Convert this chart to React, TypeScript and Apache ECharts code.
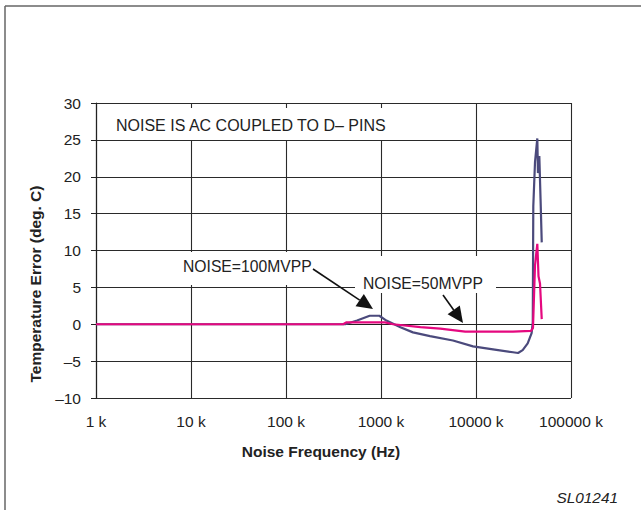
import React, { useEffect, useRef } from "react";
import * as echarts from "echarts";

// Noise frequency in kHz, temperature error in deg. C
const blueFreq = [1, 420, 560, 760, 960, 1140, 1600, 2170, 3280, 5720, 9300, 15100, 24500, 27700, 31000, 35000, 38500, 39600, 40100, 41800, 44200, 44900, 46400, 47800, 49200];
const blueTemp = [0, 0, 0.5, 1.15, 1.15, 0.5, -0.4, -1.1, -1.6, -2.2, -3.0, -3.4, -3.8, -3.9, -3.5, -2.6, -1.2, 0.3, 16, 22, 25.2, 20.5, 22.8, 17, 11.1];

const pinkFreq = [1, 400, 430, 1100, 1340, 2600, 4200, 7700, 24500, 38000, 39800, 41800, 44200, 45500, 47200, 49200];
const pinkTemp = [0, 0, 0.25, 0.25, 0, -0.4, -0.6, -1.0, -1.0, -0.9, -0.5, 8, 10.9, 6.5, 5.5, 0.7];

const yMin = -10;
const yMax = 30;
const yStep = 5;
const xMin = 1;
const xMax = 100000;

const FONT = "'Liberation Sans', Arial, Helvetica, sans-serif";
const BLUE = "#4b4a7c";
const PINK = "#e5087f";

function arrow(x1: number, y1: number, x2: number, y2: number, len: number, hw: number) {
  const dx = x2 - x1, dy = y2 - y1;
  const d = Math.hypot(dx, dy);
  const ux = dx / d, uy = dy / d;
  const bx = x2 - ux * len, by = y2 - uy * len;
  return [
    { type: "line", z: 60, shape: { x1, y1, x2: bx, y2: by }, style: { stroke: "#111", lineWidth: 1.6 } },
    {
      type: "polygon", z: 60,
      shape: { points: [[x2, y2], [bx - uy * hw, by + ux * hw], [bx + uy * hw, by - ux * hw]] },
      style: { fill: "#111" },
    },
  ];
}

export default function App() {
  const ref = useRef<HTMLDivElement>(null);
  useEffect(() => {
    if (!ref.current) return;
    const chart = echarts.init(ref.current, null, { renderer: "svg" });
    const blue = blueFreq.map((f, i) => [f, blueTemp[i]]);
    const pink = pinkFreq.map((f, i) => [f, pinkTemp[i]]);
    chart.setOption({
      animation: false,
      backgroundColor: "#fff",
      textStyle: { fontFamily: FONT },
      grid: { left: 96, top: 103, right: 70, bottom: 112, containLabel: false },
      xAxis: {
        type: "log",
        logBase: 10,
        min: xMin,
        max: xMax,
        axisLine: { lineStyle: { color: "#222", width: 1.2 } },
        axisTick: { show: true, length: 5, inside: false, lineStyle: { color: "#222" } },
        axisLabel: {
          margin: 15,
          fontSize: 15.5,
          color: "#222",
          fontFamily: FONT,
          formatter: (v: number) => `${Math.round(v)} k`,
        },
        splitLine: { show: true, lineStyle: { color: "#2a2a2a", width: 1.1 } },
        minorTick: { show: false },
      },
      yAxis: {
        type: "value",
        min: yMin,
        max: yMax,
        interval: yStep,
        axisLine: { show: true, lineStyle: { color: "#222", width: 1.2 } },
        axisTick: { show: true, length: 5, lineStyle: { color: "#222" } },
        axisLabel: {
          margin: 15,
          fontSize: 15.5,
          color: "#222",
          fontFamily: FONT,
          formatter: (v: number) => (v < 0 ? `\u2013${Math.abs(v)}` : `${v}`),
        },
        splitLine: { show: true, lineStyle: { color: "#2a2a2a", width: 1.1 } },
      },
      series: [
        {
          name: "NOISE=100MVPP",
          type: "line",
          data: blue,
          showSymbol: false,
          symbol: "none",
          lineStyle: { color: BLUE, width: 2.2 },
          z: 3,
        },
        {
          name: "NOISE=50MVPP",
          type: "line",
          data: pink,
          showSymbol: false,
          symbol: "none",
          lineStyle: { color: PINK, width: 2.2 },
          z: 4,
        },
      ],
      graphic: [
        // outer frame (top and left)
        { type: "line", z: 60, shape: { x1: 5, y1: 6, x2: 641, y2: 6 }, style: { stroke: "#666", lineWidth: 1.5 } },
        { type: "line", z: 60, shape: { x1: 5, y1: 6, x2: 5, y2: 510 }, style: { stroke: "#666", lineWidth: 1.5 } },
        // white label boxes
        { type: "rect", z: 50, shape: { x: 98, y: 108, width: 292, height: 32 }, style: { fill: "#fff" } },
        { type: "rect", z: 50, shape: { x: 170, y: 252, width: 153, height: 33 }, style: { fill: "#fff" } },
        { type: "rect", z: 50, shape: { x: 355, y: 256, width: 141, height: 37 }, style: { fill: "#fff" } },
        {
          type: "text", z: 55, x: 116, y: 125,
          style: { text: "NOISE IS AC COUPLED TO D\u2013 PINS", font: `16px ${FONT}`, fill: "#222", verticalAlign: "middle" },
        },
        {
          type: "text", z: 55, x: 183, y: 266,
          style: { text: "NOISE=100MVPP", font: `15.7px ${FONT}`, fill: "#222", verticalAlign: "middle" },
        },
        {
          type: "text", z: 55, x: 363, y: 283,
          style: { text: "NOISE=50MVPP", font: `15.7px ${FONT}`, fill: "#222", verticalAlign: "middle" },
        },
        ...arrow(313, 269, 373, 309, 16, 7.5),
        ...arrow(443, 295, 463, 323, 16, 7.5),
        // axis names
        {
          type: "text", z: 55, x: 35, y: 284, rotation: Math.PI / 2,
          style: { text: "Temperature Error (deg. C)", font: `bold 15.5px ${FONT}`, fill: "#222", align: "center", verticalAlign: "middle" },
        },
        {
          type: "text", z: 55, x: 321, y: 451,
          style: { text: "Noise Frequency (Hz)", font: `bold 15.5px ${FONT}`, fill: "#222", align: "center", verticalAlign: "middle" },
        },
        {
          type: "text", z: 55, x: 618, y: 497,
          style: { text: "SL01241", font: `italic 15.4px ${FONT}`, fill: "#222", align: "right", verticalAlign: "middle" },
        },
      ],
    });
    return () => chart.dispose();
  }, []);
  return <div ref={ref} style={{ position: "fixed", left: 0, top: 0, width: 641, height: 510 }} />;
}
